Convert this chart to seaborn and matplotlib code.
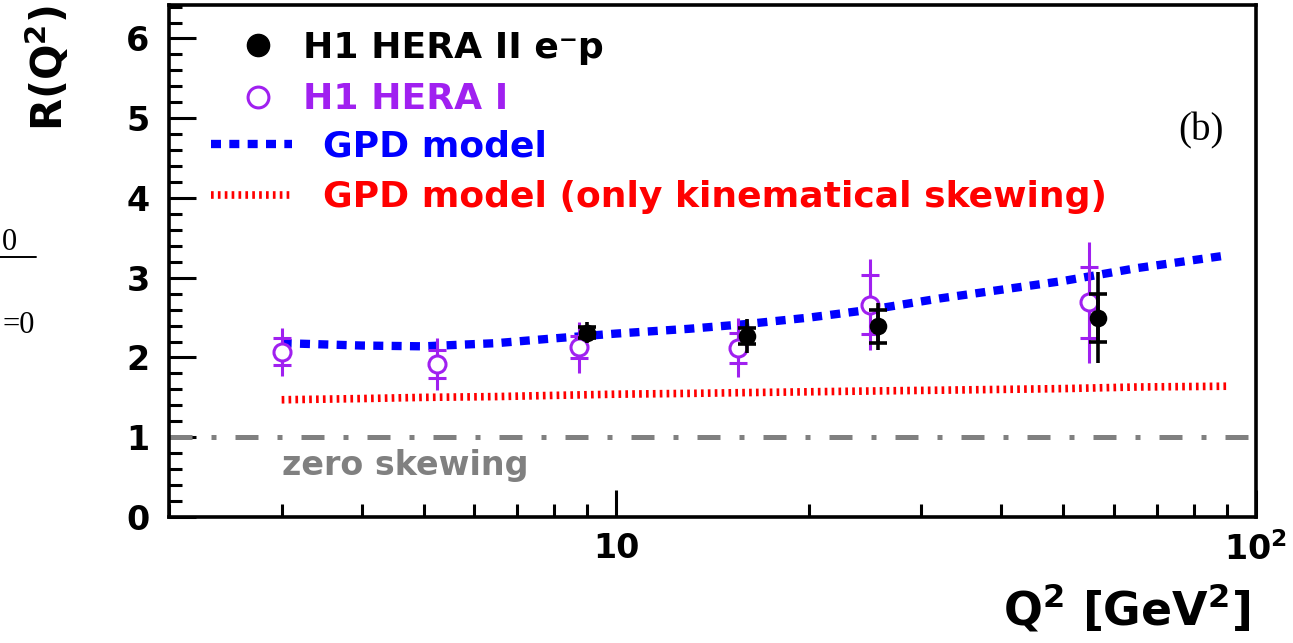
import matplotlib
matplotlib.use("Agg")
import matplotlib.pyplot as plt
from matplotlib.lines import Line2D
from matplotlib.ticker import LogLocator, MultipleLocator, NullFormatter
import pandas as pd
import seaborn as sns

# ---- data -------------------------------------------------------------
q2_hera2 = [9.0, 16.0, 25.7, 56.6]
r_hera2 = [2.31, 2.27, 2.39, 2.50]
stat_hera2 = [0.07, 0.10, 0.21, 0.30]
tot_hera2 = [0.13, 0.21, 0.29, 0.57]

q2_hera1 = [3.0, 5.25, 8.75, 15.5, 24.9, 54.8]
r_hera1 = [2.07, 1.92, 2.13, 2.12, 2.66, 2.69]
stat_hera1 = [0.17, 0.18, 0.14, 0.19, 0.37, 0.44]
tot_hera1 = [0.30, 0.33, 0.32, 0.37, 0.57, 0.76]

q2_model = [3.0, 4.0, 5.0, 6.5, 8.0, 10.0, 13.0, 16.0, 20.0, 25.0, 32.0, 40.0, 50.0, 65.0, 90.0]
r_gpd = [2.18, 2.15, 2.14, 2.18, 2.24, 2.30, 2.36, 2.42, 2.50, 2.60, 2.74, 2.85, 2.96, 3.12, 3.28]
r_kin = [1.47, 1.485, 1.50, 1.51, 1.525, 1.54, 1.55, 1.56, 1.57, 1.58, 1.59, 1.60, 1.61, 1.63, 1.64]

zero_skew_level = 1.0

x_ticks = [10, 100]
x_tick_labels = ["10", r"$\mathbf{10^{2}}$"]
y_ticks = [0, 1, 2, 3, 4, 5, 6]

labels = ["H1 HERA II e\u207bp", "H1 HERA I",
          "GPD model", "GPD model (only kinematical skewing)"]

# ---- style ------------------------------------------------------------
sns.set_theme(style="white")
plt.rcParams["font.family"] = ["DejaVu Sans"]
plt.rcParams["font.weight"] = "bold"
plt.rcParams["axes.labelweight"] = "bold"
plt.rcParams["mathtext.fontset"] = "dejavusans"
plt.rcParams["mathtext.default"] = "bf"
for key in ("text.color", "axes.labelcolor", "xtick.color", "ytick.color",
            "axes.edgecolor"):
    plt.rcParams[key] = "black"

PURPLE = "#a020f0"
BLUE = "#0000ff"
RED = "#ff0000"
GREY = "#808080"

W, H = 1293, 643
fig = plt.figure(figsize=(W / 100, H / 100), dpi=100)
ax = fig.add_axes([169 / W, 1 - 517 / H, (1256 - 169) / W, (517 - 5) / H])

df_model = pd.DataFrame({"q2": q2_model, "gpd": r_gpd, "kin": r_kin})

# model curves
sns.lineplot(data=df_model, x="q2", y="gpd", ax=ax, color=BLUE, lw=6.0,
             linestyle=(0, (1.2, 1.0)), dash_capstyle="butt", zorder=2)
sns.lineplot(data=df_model, x="q2", y="kin", ax=ax, color=RED, lw=5.5,
             linestyle=(0, (0.35, 0.55)), dash_capstyle="butt", zorder=2)

# zero-skewing reference
ax.axhline(zero_skew_level, color=GREY, lw=3.6,
           linestyle=(0, (4.6, 3.8, 1.0, 3.8)), dash_capstyle="butt", zorder=1)

# HERA I points: total error (plain) and statistical error (capped)
ax.errorbar(q2_hera1, r_hera1, yerr=tot_hera1, fmt="none", ecolor=PURPLE,
            elinewidth=2.2, capsize=0, zorder=3)
ax.errorbar(q2_hera1, r_hera1, yerr=stat_hera1, fmt="none", ecolor=PURPLE,
            elinewidth=2.2, capsize=6.5, capthick=2.2, zorder=3)
sns.scatterplot(x=q2_hera1, y=r_hera1, ax=ax, marker="o", s=150,
                facecolor="white", edgecolor=PURPLE, linewidth=2.2, zorder=4)

# HERA II points
ax.errorbar(q2_hera2, r_hera2, yerr=tot_hera2, fmt="none", ecolor="black",
            elinewidth=2.6, capsize=0, zorder=5)
ax.errorbar(q2_hera2, r_hera2, yerr=stat_hera2, fmt="none", ecolor="black",
            elinewidth=2.6, capsize=6.5, capthick=2.6, zorder=5)
sns.scatterplot(x=q2_hera2, y=r_hera2, ax=ax, marker="o", s=160,
                color="black", edgecolor="black", linewidth=0, zorder=6)

# ---- axes -------------------------------------------------------------
ax.set_xscale("log")
ax.set_xlim(2, 100)
ax.set_ylim(0, 6.42)
ax.set_xticks(x_ticks, labels=x_tick_labels)
ax.xaxis.set_minor_locator(LogLocator(base=10, subs=range(2, 10)))
ax.xaxis.set_minor_formatter(NullFormatter())
ax.set_yticks(y_ticks)
ax.yaxis.set_minor_locator(MultipleLocator(0.2))

for s in ax.spines.values():
    s.set_linewidth(2.6)
    s.set_color("black")

ax.tick_params(which="both", direction="in", top=False, right=False,
               bottom=True, left=True, color="black", width=2.2)
ax.tick_params(which="major", length=19.5, labelsize=24, pad=14,
               labelcolor="black")
ax.tick_params(which="minor", length=9.5)
ax.tick_params(axis="x", which="major", pad=11)

ax.set_xlabel(r"Q$^{2}$ [GeV$^{2}$]", fontsize=33, loc="right")
ax.xaxis.set_label_coords(0.9945, -0.128)
ax.set_ylabel(r"R(Q$^{2}$)", fontsize=30, va="center", ha="center")
ax.yaxis.set_label_coords(-0.112, 0.877)

ax.text(3.0, 0.53, "zero skewing", color=GREY, fontsize=24,
        ha="left", va="baseline")
ax.text(0.949, 0.754, "(b)", transform=ax.transAxes, fontsize=28,
        family="Liberation Serif", fontweight="normal",
        ha="center", va="center", color="black")

# ---- legends ----------------------------------------------------------
prop = {"weight": "bold", "size": 26}
pts_handles = [
    Line2D([], [], marker="o", ls="none", color="black", ms=16),
    Line2D([], [], marker="o", ls="none", mfc="white", mec=PURPLE,
           mew=2.2, ms=15),
]
leg1 = ax.legend(pts_handles, labels[:2], loc="upper left",
                 bbox_to_anchor=(0.0653, 0.949), frameon=False, prop=prop,
                 handlelength=1.0, handletextpad=0.75, labelspacing=0.48,
                 borderpad=0, borderaxespad=0,
                 labelcolor=["black", PURPLE])
ax.add_artist(leg1)

line_handles = [
    Line2D([], [], color=BLUE, lw=6.0, linestyle=(0, (1.2, 1.0)),
           dash_capstyle="butt"),
    Line2D([], [], color=RED, lw=5.5, linestyle=(0, (0.35, 0.55)),
           dash_capstyle="butt"),
]
ax.legend(line_handles, labels[2:], loc="upper left",
          bbox_to_anchor=(0.039, 0.756), frameon=False, prop=prop,
          handlelength=2.22, handletextpad=0.86, labelspacing=0.45,
          borderpad=0, borderaxespad=0, labelcolor=[BLUE, RED])

# ---- edge of the neighbouring panel ----------------------------------
fig.text(2 / W, 1 - 250 / H, "0", family="Liberation Serif",
         fontweight="normal", fontsize=22, ha="left", va="baseline")
fig.add_artist(Line2D([0, 36 / W], [1 - 257 / H] * 2,
                      transform=fig.transFigure, color="black", lw=1.4))
fig.text(2 / W, 1 - 333 / H, "=0", family="Liberation Serif",
         fontweight="normal", fontsize=22, ha="left", va="baseline")

fig.savefig("out.png", dpi=100)
